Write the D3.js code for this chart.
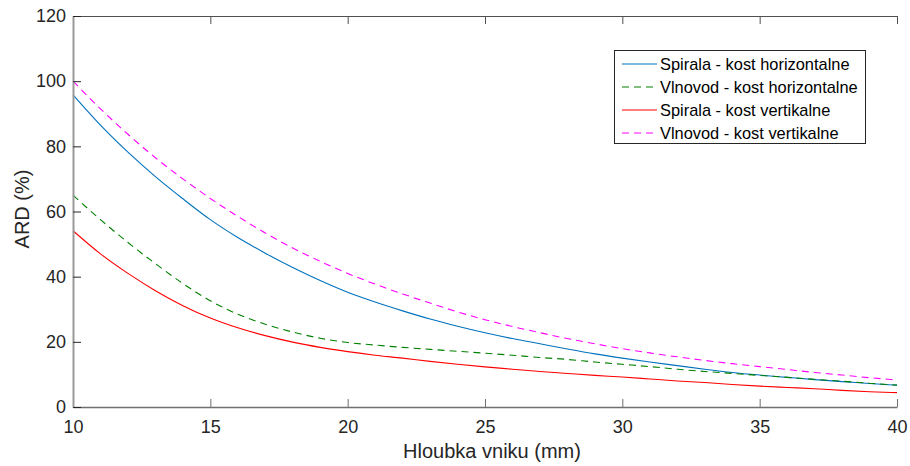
<!DOCTYPE html>
<html>
<head>
<meta charset="utf-8">
<script src="https://cdn.jsdelivr.net/npm/d3@7"></script>
<style>
  html, body { margin: 0; padding: 0; background: #fff; }
  svg { display: block; font-family: "Liberation Sans", Arial, sans-serif; }
</style>
</head>
<body>
<svg id="chart" width="910" height="466"></svg>
<script>
// Penetration depth (mm)
const depth = [10,11,12,13,14,15,16,17,18,19,20,21,22,23,24,25,26,27,28,29,30,31,32,33,34,35,36,37,38,39,40];

// ARD (%) per configuration
const spiralaHorizontal = [95.8,86.5,78.2,70.7,63.9,57.5,52.0,47.2,42.8,38.8,35.2,32.2,29.5,27.0,24.8,22.8,21.0,19.4,17.8,16.3,15.0,13.8,12.7,11.6,10.6,9.8,9.1,8.4,7.8,7.2,6.7];
const vlnovodHorizontal = [65.0,57.5,50.5,44.0,37.9,32.6,28.5,25.4,23.0,21.1,19.8,19.0,18.3,17.7,17.1,16.5,15.9,15.2,14.6,13.8,13.1,12.4,11.6,10.9,10.3,9.7,9.1,8.5,7.9,7.3,6.7];
const spiralaVertical = [54.1,47.0,41.0,35.7,31.1,27.3,24.3,21.9,19.9,18.3,17.0,15.9,15.0,14.0,13.1,12.3,11.6,10.9,10.3,9.7,9.2,8.6,8.0,7.5,6.9,6.4,6.0,5.6,5.1,4.7,4.4];
const vlnovodVertical = [100.0,91.5,83.7,76.5,70.0,64.0,58.5,53.4,48.8,44.7,41.0,37.7,34.7,31.9,29.2,26.8,24.7,22.8,21.0,19.4,17.9,16.6,15.4,14.3,13.3,12.4,11.5,10.6,9.8,9.0,8.3];

const seriesNames = ["Spirala - kost horizontalne", "Vlnovod - kost horizontalne", "Spirala - kost vertikalne", "Vlnovod - kost vertikalne"];
const xTicks = [10,15,20,25,30,35,40];
const yTicks = [0,20,40,60,80,100,120];
const xLabel = "Hloubka vniku (mm)";
const yLabel = "ARD (%)";

const series = [
  { name: seriesNames[0], values: spiralaHorizontal, color: "#0072BD", dash: null },
  { name: seriesNames[1], values: vlnovodHorizontal, color: "#008000", dash: "7,5" },
  { name: seriesNames[2], values: spiralaVertical, color: "#FF0000", dash: null },
  { name: seriesNames[3], values: vlnovodVertical, color: "#FF00FF", dash: "7,5" }
];

const svg = d3.select("#chart");
const plotLeft = 73, plotRight = 897, plotTop = 16, plotBottom = 407;

const x = d3.scaleLinear().domain([10, 40]).range([plotLeft, plotRight]);
const y = d3.scaleLinear().domain([0, 120]).range([plotBottom, plotTop]);

const textColor = "#262626";
const tickLen = 8;

// Data lines
const line = d3.line().curve(d3.curveMonotoneX).x((d, i) => x(depth[i])).y(d => y(d));
const plot = svg.append("g");
series.forEach(s => {
  plot.append("path")
    .datum(s.values)
    .attr("d", line)
    .attr("fill", "none")
    .attr("stroke", s.color)
    .attr("stroke-width", 1.1)
    .attr("stroke-dasharray", s.dash);
});

// Axes: bottom and top with inward ticks, left with inward ticks
const gx = svg.append("g").attr("transform", `translate(0,${plotBottom})`)
  .call(d3.axisBottom(x).tickValues(xTicks).tickFormat(d3.format("d")).tickSizeInner(-tickLen).tickSizeOuter(0).tickPadding(13));
gx.select(".domain").attr("stroke", "#707070").attr("stroke-width", 1.3);
gx.selectAll(".tick line").attr("stroke", "#707070");
gx.selectAll("text").attr("fill", textColor).style("font-size", "18px");

const gt = svg.append("g").attr("transform", `translate(0,${plotTop})`)
  .call(d3.axisTop(x).tickValues(xTicks).tickFormat("").tickSizeInner(-tickLen).tickSizeOuter(0));
gt.select(".domain").attr("stroke", "#505050").attr("stroke-width", 1.2);
gt.selectAll(".tick line").attr("stroke", "#505050");

const gy = svg.append("g").attr("transform", `translate(${plotLeft},0)`)
  .call(d3.axisLeft(y).tickValues(yTicks).tickFormat(d3.format("d")).tickSizeInner(-tickLen).tickSizeOuter(0).tickPadding(7));
gy.select(".domain").attr("stroke", "#999").attr("stroke-width", 2);
gy.selectAll(".tick line").attr("stroke", "#262626");
gy.selectAll("text").attr("fill", textColor).style("font-size", "18px");

// Axis titles
svg.append("text")
  .attr("x", 492).attr("y", 458)
  .attr("text-anchor", "middle").attr("fill", textColor)
  .style("font-size", "20px").text(xLabel);
svg.append("text")
  .attr("transform", "translate(29,209) rotate(-90)")
  .attr("text-anchor", "middle").attr("fill", textColor)
  .style("font-size", "20px").text(yLabel);

// Legend
const lg = svg.append("g");
lg.append("rect")
  .attr("x", 614.5).attr("y", 50.5).attr("width", 251).attr("height", 93)
  .attr("fill", "#fff").attr("stroke", "#262626").attr("stroke-width", 1);
series.forEach((s, i) => {
  const cy = 64 + i * 23;
  lg.append("line")
    .attr("x1", 622).attr("x2", 657).attr("y1", cy).attr("y2", cy)
    .attr("stroke", s.color).attr("stroke-width", 1.1)
    .attr("stroke-dasharray", s.dash);
  lg.append("text")
    .attr("x", 660).attr("y", cy).attr("dy", "0.35em")
    .attr("fill", "#000").style("font-size", "16.4px").text(s.name);
});
</script>
</body>
</html>
